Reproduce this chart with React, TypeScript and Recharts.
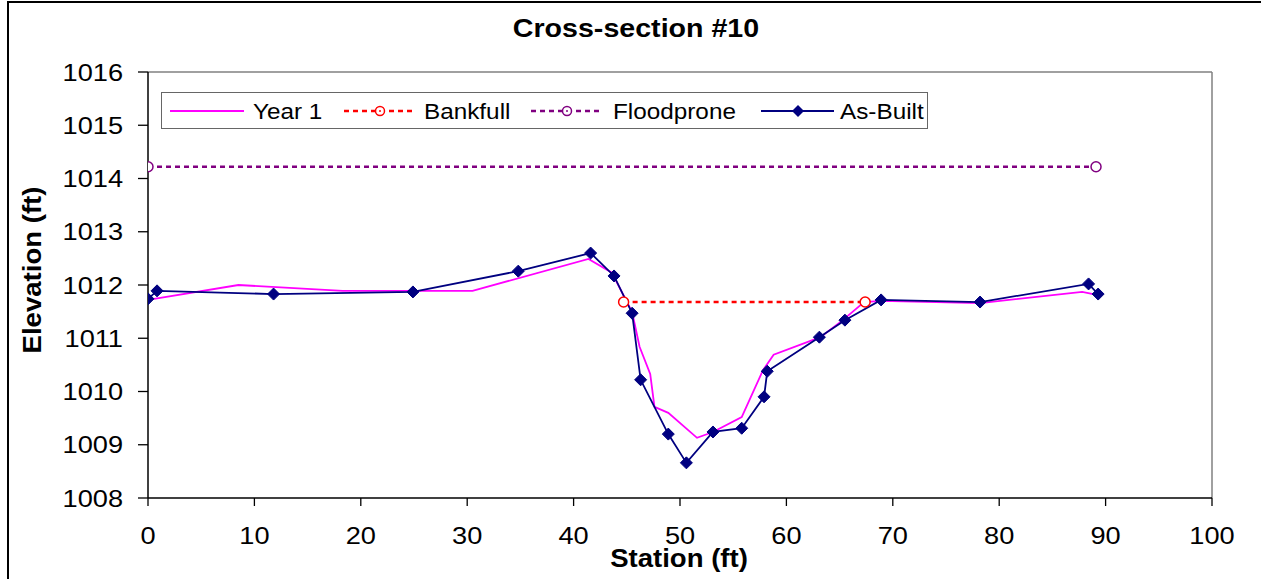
import React from 'react';
import { LineChart, Line, XAxis, YAxis, ReferenceLine, Legend, Label } from 'recharts';

// Cross-section #10 survey data (station ft, elevation ft)
const xTicks = [0, 10, 20, 30, 40, 50, 60, 70, 80, 90, 100];
const yTicks = [1008, 1009, 1010, 1011, 1012, 1013, 1014, 1015, 1016];

const year1Station = [0, 8.5, 18.3, 30.5, 41.4, 43.6, 45.5, 46.2, 47.2, 47.6, 48.9, 51.6, 53.1, 55.8, 57.8, 58.8, 63.2, 65.3, 67.3, 68.9, 78.2, 87.8, 89.3];
const year1Elevation = [1011.72, 1012.0, 1011.89, 1011.89, 1012.49, 1012.23, 1011.49, 1010.84, 1010.33, 1009.71, 1009.6, 1009.13, 1009.24, 1009.52, 1010.4, 1010.69, 1011.02, 1011.34, 1011.68, 1011.7, 1011.66, 1011.87, 1011.81];

const bankfullStation = [44.7, 67.4];
const bankfullElevation = [1011.68, 1011.68];

const floodproneStation = [0, 89.1];
const floodproneElevation = [1014.22, 1014.22];

const asBuiltStation = [0, 0.85, 11.8, 24.9, 34.8, 41.6, 43.8, 45.5, 46.3, 48.9, 50.6, 53.1, 55.8, 57.9, 58.2, 63.1, 65.5, 68.9, 78.2, 88.4, 89.3];
const asBuiltElevation = [1011.74, 1011.89, 1011.83, 1011.87, 1012.26, 1012.6, 1012.17, 1011.47, 1010.22, 1009.2, 1008.66, 1009.24, 1009.31, 1009.9, 1010.38, 1011.02, 1011.34, 1011.72, 1011.68, 1012.02, 1011.83];

const toPoints = (xs: number[], ys: number[]) => xs.map((x, i) => ({ x, y: ys[i] }));

const year1 = toPoints(year1Station, year1Elevation);
const bankfull = toPoints(bankfullStation, bankfullElevation);
const floodprone = toPoints(floodproneStation, floodproneElevation);
const asBuilt = toPoints(asBuiltStation, asBuiltElevation);

const FONT = '"Liberation Sans", Arial, sans-serif';
const MAGENTA = '#ff00ff';
const RED = '#ff0000';
const PURPLE = '#800080';
const NAVY = '#000080';
const DASH = '5 4';

// Excel-exported text is stretched horizontally a little
function SText({ x, y, scale = 1.1, rotate = 0, children, ...rest }: any) {
  return (
    <text
      transform={`translate(${x},${y}) rotate(${rotate}) scale(${scale},1)`}
      fontFamily={FONT}
      fill="#000"
      {...rest}
    >
      {children}
    </text>
  );
}

function YTick({ x, y, payload }: any) {
  return (
    <SText x={x} y={y} dy="0.355em" textAnchor="end" fontSize={24.5} scale={1.11}>
      {payload.value}
    </SText>
  );
}

function XTick({ x, y, payload }: any) {
  return (
    <SText x={x} y={y} dy="0.71em" textAnchor="middle" fontSize={24.5} scale={1.11}>
      {payload.value}
    </SText>
  );
}

function Diamond({ cx, cy, index }: any) {
  const r = 6;
  return (
    <path
      key={`d-${index}`}
      d={`M${cx},${cy - r}L${cx + r},${cy}L${cx},${cy + r}L${cx - r},${cy}Z`}
      fill={NAVY}
      stroke={NAVY}
    />
  );
}

function LegendBox() {
  const cy = 18;
  const text = (x: number, label: string) => (
    <SText x={x} y={cy + 7.5} fontSize={21.5} scale={1.13}>
      {label}
    </SText>
  );
  return (
    <div
      style={{
        width: 767,
        height: 37,
        boxSizing: 'border-box',
        border: '1.5px solid #666',
        background: '#fff',
      }}
    >
      <svg width={764} height={34} style={{ display: 'block' }}>
        <line x1={8} x2={82} y1={cy} y2={cy} stroke={MAGENTA} strokeWidth={2} />
        {text(91, 'Year 1')}
        <line x1={182} x2={251} y1={cy} y2={cy} stroke={RED} strokeWidth={2.5} strokeDasharray={DASH} />
        <circle cx={218} cy={cy} r={4.5} fill="#fff" stroke={RED} strokeWidth={1.5} />
        <circle cx={218} cy={cy} r={1} fill={RED} />
        {text(262, 'Bankfull')}
        <line x1={369} x2={437} y1={cy} y2={cy} stroke={PURPLE} strokeWidth={2.5} strokeDasharray={DASH} />
        <circle cx={405} cy={cy} r={4.5} fill="#fff" stroke={PURPLE} strokeWidth={1.5} />
        <circle cx={405} cy={cy} r={1} fill={PURPLE} />
        {text(451, 'Floodprone')}
        <line x1={599} x2={672} y1={cy} y2={cy} stroke={NAVY} strokeWidth={2} />
        <path d={`M636,${cy - 6}L642,${cy}L636,${cy + 6}L630,${cy}Z`} fill={NAVY} />
        {text(678, 'As-Built')}
      </svg>
    </div>
  );
}

export default function App() {
  return (
    <div
      style={{
        position: 'absolute',
        left: 7,
        top: 1,
        width: 1254,
        height: 578,
        boxSizing: 'border-box',
        borderLeft: '2px solid #000',
        borderTop: '2px solid #000',
        background: '#fff',
        overflow: 'hidden',
      }}
    >
      <div
        style={{
          position: 'absolute',
          left: 0,
          top: 12,
          width: 1254,
          textAlign: 'center',
          fontFamily: FONT,
          fontWeight: 'bold',
          fontSize: 26,
          lineHeight: '26px',
          transform: 'scaleX(1.1)',
          transformOrigin: '627px 0',
        }}
      >
        Cross-section #10
      </div>
      <LineChart
        width={1252}
        height={575}
        margin={{ top: 69, right: 49, bottom: 0, left: 0 }}
      >
        <XAxis
          dataKey="x"
          type="number"
          domain={[0, 100]}
          ticks={xTicks}
          allowDataOverflow
          height={80}
          tickSize={8}
          tickMargin={21}
          tick={<XTick />}
          axisLine={{ stroke: '#000', strokeWidth: 1.5 }}
          tickLine={{ stroke: '#000', strokeWidth: 1.3 }}
        >
          <Label
            content={() => (
              <SText x={670} y={564} textAnchor="middle" fontSize={26} fontWeight="bold" scale={1.06}>
                Station (ft)
              </SText>
            )}
          />
        </XAxis>
        <YAxis
          dataKey="y"
          type="number"
          domain={[1008, 1016]}
          ticks={yTicks}
          allowDataOverflow
          width={139}
          tickSize={10}
          tickMargin={15}
          tick={<YTick />}
          axisLine={{ stroke: '#000', strokeWidth: 1.5 }}
          tickLine={{ stroke: '#000', strokeWidth: 1.3 }}
        >
          <Label
            content={() => (
              <SText x={32} y={267} rotate={-90} textAnchor="middle" fontSize={26} fontWeight="bold" scale={1.06}>
                Elevation (ft)
              </SText>
            )}
          />
        </YAxis>
        <ReferenceLine y={1016} stroke="#808080" strokeWidth={1.5} />
        <ReferenceLine x={100} stroke="#808080" strokeWidth={1.5} />
        <Legend
          layout="horizontal"
          verticalAlign="middle"
          align="center"
          content={() => <LegendBox />}
          wrapperStyle={{ left: 152, top: 89, width: 767, height: 37 }}
        />
        <Line
          data={year1}
          dataKey="y"
          name="Year 1"
          stroke={MAGENTA}
          strokeWidth={1.8}
          dot={false}
          isAnimationActive={false}
        />
        <Line
          data={bankfull}
          dataKey="y"
          name="Bankfull"
          stroke={RED}
          strokeWidth={2.5}
          strokeDasharray={DASH}
          dot={{ r: 5, fill: '#fff', stroke: RED, strokeWidth: 1.5, strokeDasharray: '' }}
          isAnimationActive={false}
        />
        <Line
          data={floodprone}
          dataKey="y"
          name="Floodprone"
          stroke={PURPLE}
          strokeWidth={2.5}
          strokeDasharray={DASH}
          dot={{ r: 5, fill: '#fff', stroke: PURPLE, strokeWidth: 1.5, strokeDasharray: '' }}
          isAnimationActive={false}
        />
        <Line
          data={asBuilt}
          dataKey="y"
          name="As-Built"
          stroke={NAVY}
          strokeWidth={1.8}
          dot={(p: any) => <Diamond key={`as-${p.index}`} {...p} />}
          isAnimationActive={false}
        />
      </LineChart>
    </div>
  );
}
